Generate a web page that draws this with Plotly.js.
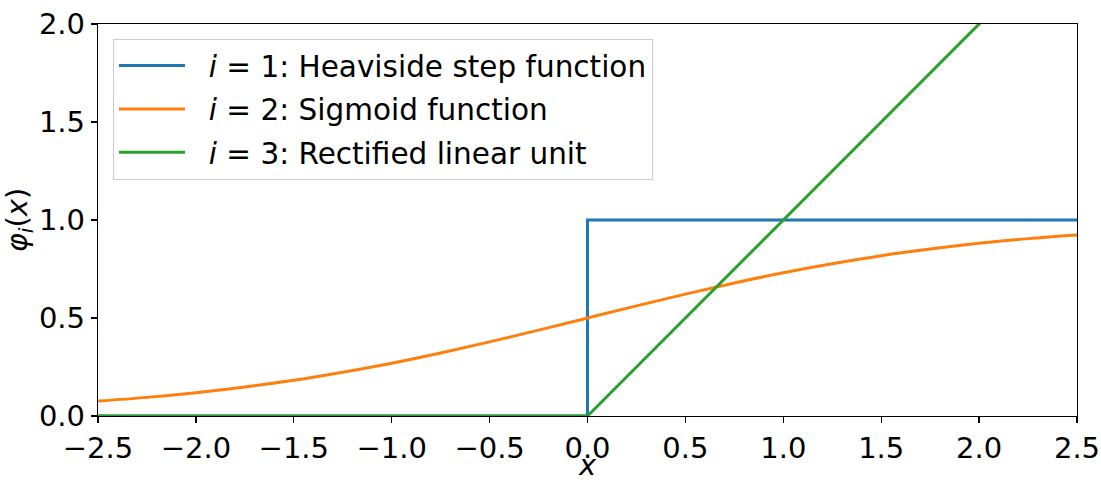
<!DOCTYPE html>
<html>
<head>
<meta charset="utf-8">
<script src="https://cdn.plot.ly/plotly-3.0.1.min.js"></script>
<style>html,body{margin:0;padding:0;background:#fff;}#chart{width:1101px;height:482px;}</style>
</head>
<body>
<div id="chart"></div>
<script>
// Heaviside step function
const stepX = [-2.5, 0, 0, 2.5];
const stepY = [0, 0, 1, 1];
// Sigmoid function
const sigX = [-2.5, -2.25, -2.0, -1.75, -1.5, -1.25, -1.0, -0.75, -0.5, -0.25, 0, 0.25, 0.5, 0.75, 1.0, 1.25, 1.5, 1.75, 2.0, 2.25, 2.5];
const sigY = [0.076, 0.095, 0.119, 0.148, 0.182, 0.223, 0.269, 0.321, 0.378, 0.438, 0.5, 0.562, 0.622, 0.679, 0.731, 0.777, 0.818, 0.852, 0.881, 0.905, 0.924];
// Rectified linear unit
const reluX = [-2.5, 0, 2.5];
const reluY = [0, 0, 2.5];
const xTicks = [-2.5, -2.0, -1.5, -1.0, -0.5, 0.0, 0.5, 1.0, 1.5, 2.0, 2.5];
const yTicks = [0.0, 0.5, 1.0, 1.5, 2.0];
const names = ['<i>i</i> = 1: Heaviside step function', '<i>i</i> = 2: Sigmoid function', '<i>i</i> = 3: Rectified linear unit'];

const fmt = v => (v < 0 ? '\u2212' : '') + Math.abs(v).toFixed(1);
const pad = '\u00a0\u00a0';

const traces = [
  {x: stepX, y: stepY, name: pad + names[0], legendgroup: 'a', mode: 'lines', line: {color: '#1f77b4', width: 3}},
  {x: sigX, y: sigY, name: pad + names[1], legendgroup: 'b', mode: 'lines', line: {color: '#ff7f0e', width: 3, shape: 'spline'}},
  {x: reluX, y: reluY, name: pad + names[2], legendgroup: 'c', mode: 'lines', line: {color: '#2ca02c', width: 3}}
];

const layout = {
  width: 1101, height: 482,
  margin: {l: 98, r: 24, t: 24, b: 66},
  paper_bgcolor: '#fff', plot_bgcolor: '#fff',
  font: {family: 'DejaVu Sans', size: 29, color: '#000'},
  showlegend: true,
  legend: {
    x: 0.0153, y: 0.962, xanchor: 'left', yanchor: 'top',
    bgcolor: 'rgba(255,255,255,0.8)', bordercolor: '#cccccc', borderwidth: 1,
    font: {family: 'DejaVu Sans', size: 29.5, color: '#000'},
    itemwidth: 66, tracegroupgap: 2, traceorder: 'grouped'
  },
  xaxis: {
    range: [-2.5, 2.5], tickvals: xTicks, ticktext: xTicks.map(fmt),
    ticks: 'outside', ticklen: 6, tickwidth: 1.2, tickcolor: '#000',
    showgrid: false, zeroline: false, showline: true, linecolor: '#000', linewidth: 1.2, mirror: true,
    tickfont: {size: 29},
    title: {text: '<i>x</i>', font: {size: 29}, standoff: 6}
  },
  yaxis: {
    range: [0, 2], tickvals: yTicks, ticktext: yTicks.map(fmt),
    ticks: 'outside', ticklen: 6, tickwidth: 1.2, tickcolor: '#000',
    showgrid: false, zeroline: false, showline: true, linecolor: '#000', linewidth: 1.2, mirror: true,
    tickfont: {size: 29},
    title: {text: '<i>φ<sub>i</sub></i>(<i>x</i>)', font: {size: 29}, standoff: 4}
  }
};

Plotly.newPlot('chart', traces, layout, {displayModeBar: false, staticPlot: true});
</script>
</body>
</html>
